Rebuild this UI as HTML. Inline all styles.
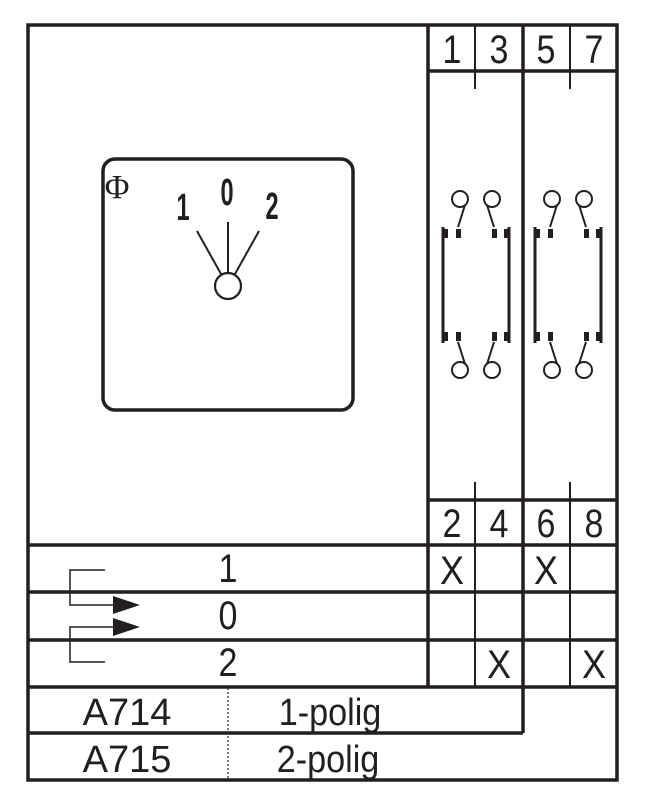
<!DOCTYPE html>
<html><head><style>html,body{margin:0;padding:0;background:#fff}</style></head><body>
<svg width="651" height="806" viewBox="0 0 651 806" xmlns="http://www.w3.org/2000/svg" font-family="Liberation Sans, sans-serif">
<rect width="651" height="806" fill="#fff"/>
<g stroke="#231f20" fill="none">
<rect x="28" y="25" width="589" height="755" stroke-width="3.5"/>
<line x1="428" y1="25" x2="428" y2="545" stroke-width="3.5"/>
<line x1="523" y1="25" x2="523" y2="733" stroke-width="3.5"/>
<line x1="475" y1="25" x2="475" y2="72" stroke-width="2"/>
<line x1="570" y1="25" x2="570" y2="72" stroke-width="2"/>
<line x1="428" y1="71" x2="617" y2="71" stroke-width="3.5"/>
<line x1="475" y1="72" x2="475" y2="89" stroke-width="2"/>
<line x1="570" y1="72" x2="570" y2="89" stroke-width="2"/>
<line x1="475" y1="482" x2="475" y2="545" stroke-width="2"/>
<line x1="570" y1="482" x2="570" y2="545" stroke-width="2"/>
<line x1="428" y1="500" x2="617" y2="500" stroke-width="3.5"/>
<line x1="28" y1="545" x2="617" y2="545" stroke-width="3.5"/>
<line x1="28" y1="592" x2="617" y2="592" stroke-width="3.5"/>
<line x1="28" y1="640" x2="617" y2="640" stroke-width="3.5"/>
<line x1="28" y1="687" x2="617" y2="687" stroke-width="3.5"/>
<line x1="28" y1="733" x2="523" y2="733" stroke-width="3.5"/>
<line x1="428" y1="545" x2="428" y2="687" stroke-width="3.5"/>
<line x1="475" y1="545" x2="475" y2="687" stroke-width="2"/>
<line x1="570" y1="545" x2="570" y2="687" stroke-width="2"/>
<line x1="228" y1="688" x2="228" y2="779" stroke-width="1.2" stroke-dasharray="2,2"/>
<rect x="103" y="159" width="250" height="251" rx="12" stroke-width="3.5"/>
<circle cx="228" cy="286" r="13" stroke-width="2.2"/>
<line x1="197" y1="231" x2="221" y2="274" stroke-width="2"/>
<line x1="228" y1="222" x2="228" y2="273" stroke-width="2"/>
<line x1="259" y1="231" x2="235" y2="274" stroke-width="2"/>
<polyline points="105,570 70,570 70,605 115,605" stroke-width="1.5"/>
<polyline points="105,662 70,662 70,627 115,627" stroke-width="1.5"/>
</g>
<g fill="#231f20">
<polygon points="113,596 140,605 113,614"/>
<polygon points="113,618 140,627 113,636"/>
</g>
<g id="c">
<g stroke="#231f20" fill="none" stroke-width="2">
<circle cx="460" cy="199" r="8"/>
<circle cx="492" cy="199" r="8"/>
<path d="M465,205 L458,227"/>
<path d="M487,205 L494,227"/>
<circle cx="460" cy="370" r="8"/>
<circle cx="492" cy="370" r="8"/>
<path d="M465,364 L458,342"/>
<path d="M487,364 L494,342"/>
<line x1="443" y1="227" x2="443" y2="343" stroke-width="3"/>
<line x1="509" y1="227" x2="509" y2="343" stroke-width="3"/>
</g>
<g fill="#231f20">
<rect x="456" y="229" width="5" height="9"/><rect x="492" y="229" width="5" height="9"/>
<rect x="456" y="332" width="5" height="9"/><rect x="492" y="332" width="5" height="9"/>
<rect x="444" y="229" width="4" height="9"/><rect x="504" y="229" width="4" height="9"/>
<rect x="444" y="332" width="4" height="9"/><rect x="504" y="332" width="4" height="9"/>
</g>
</g>
<use href="#c" x="92"/>
<g fill="#231f20" font-size="40" text-anchor="middle">
<text transform="translate(452,63) scale(0.85,1)">1</text><text transform="translate(499,63) scale(0.85,1)">3</text><text transform="translate(546,63) scale(0.85,1)">5</text><text transform="translate(594,63) scale(0.85,1)">7</text>
<text transform="translate(452,537) scale(0.85,1)">2</text><text transform="translate(499,537) scale(0.85,1)">4</text><text transform="translate(546,537) scale(0.85,1)">6</text><text transform="translate(594,537) scale(0.85,1)">8</text>
<text transform="translate(228,582) scale(0.85,1)">1</text><text transform="translate(228,629) scale(0.85,1)">0</text><text transform="translate(228,676) scale(0.85,1)">2</text>
<text transform="translate(452,584) scale(0.9,1)">X</text><text transform="translate(546,584) scale(0.9,1)">X</text>
<text transform="translate(499,678) scale(0.9,1)">X</text><text transform="translate(594,678) scale(0.9,1)">X</text>
<text x="127" y="725" font-size="38">A714</text><text x="127" y="772" font-size="38">A715</text>
<text transform="translate(330,725) scale(0.9,1)" font-size="38">1-polig</text><text transform="translate(328,772) scale(0.9,1)" font-size="38">2-polig</text>
</g>
<text x="117" y="198" font-family="Liberation Serif, serif" font-size="34" fill="#231f20" text-anchor="middle">Φ</text>
<g fill="#231f20" font-size="38" font-weight="bold" text-anchor="middle">
<text transform="translate(183,220) scale(0.62,1)">1</text>
<text transform="translate(227,205) scale(0.62,1)">0</text>
<text transform="translate(272,219) scale(0.62,1)">2</text>
</g>
</svg>
</body></html>
